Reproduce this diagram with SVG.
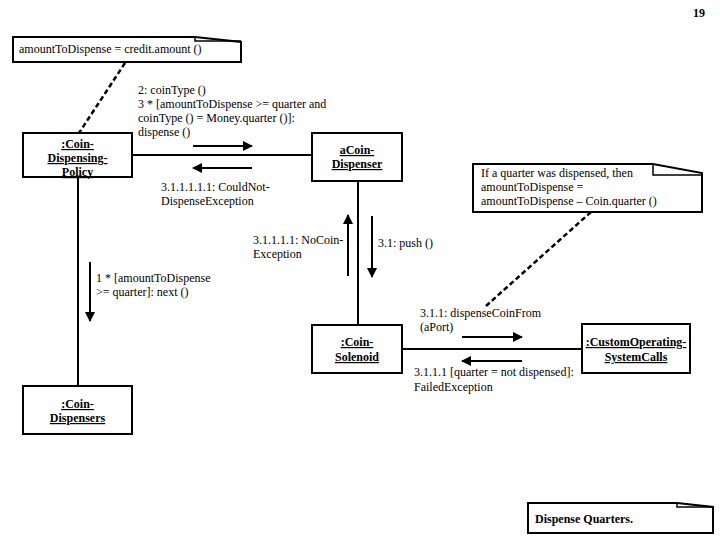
<svg xmlns="http://www.w3.org/2000/svg" width="720" height="540" viewBox="0 0 720 540" font-family="'Liberation Serif', 'Times New Roman', Times, 'DejaVu Serif', serif" font-size="12">
<style>
text{font-family:'Liberation Serif','Times New Roman',Times,'DejaVu Serif',serif;font-size:12px;fill:#000}
.obj{fill:#fff;stroke:#000;stroke-width:2}
.name{font-weight:bold;text-decoration:underline;text-anchor:middle}
.ln{stroke:#000;stroke-width:2;fill:none}
.arr{stroke:#000;stroke-width:2;fill:none;marker-end:url(#ah)}
.dash{stroke:#000;stroke-width:2.5;fill:none;stroke-dasharray:5,3}
.note{fill:#fff;stroke:#000;stroke-width:2}
.fold{fill:none;stroke:#000;stroke-width:1.5}
</style>
<defs>
<marker id="ah" viewBox="0 0 10 10" refX="9" refY="5" markerWidth="5" markerHeight="5" markerUnits="strokeWidth" orient="auto">
<path d="M0,0 L10,5 L0,10 z" fill="#000"/>
</marker>
</defs>
<rect width="720" height="540" fill="#fff"/>
<text x="705" y="17" font-weight="bold" font-size="13" text-anchor="end">19</text>

<g id="connectors">
<line class="ln" x1="132" y1="155" x2="312" y2="155"/>
<line class="ln" x1="78" y1="177" x2="78" y2="386"/>
<line class="ln" x1="358" y1="182" x2="358" y2="325"/>
<line class="ln" x1="402" y1="349" x2="582" y2="349"/>
<path class="dash" d="M125,63 L79,133"/>
<path class="dash" d="M591,212 L486,306"/>
<path class="arr" d="M193,146 L252,146"/>
<path class="arr" d="M252,168 L193,168"/>
<path class="arr" d="M90,262 L90,321"/>
<path class="arr" d="M348,276 L348,215"/>
<path class="arr" d="M372,216 L372,277"/>
<path class="arr" d="M462,337 L522,337"/>
<path class="arr" d="M522,361 L462,361"/>
<text x="138" y="94">2: coinType ()</text>
<text x="138" y="108">3 * [amountToDispense &gt;= quarter and</text>
<text x="138" y="122">coinType () = Money.quarter ()]:</text>
<text x="138" y="136">dispense ()</text>
<text x="161" y="191">3.1.1.1.1.1: CouldNot-</text>
<text x="161" y="205">DispenseException</text>
<text x="253" y="244">3.1.1.1.1: NoCoin-</text>
<text x="253" y="258">Exception</text>
<text x="378" y="247">3.1: push ()</text>
<text x="96" y="282">1 * [amountToDispense</text>
<text x="96" y="296">&gt;= quarter]: next ()</text>
<text x="420" y="317">3.1.1: dispenseCoinFrom</text>
<text x="420" y="331">(aPort)</text>
<text x="414" y="376">3.1.1.1 [quarter = not dispensed]:</text>
<text x="414" y="391">FailedException</text>
</g>

<g id="note-amount">
<path class="note" d="M13,37 L195,37 L241,42 L241,62 L13,62 Z"/>
<path class="fold" d="M195,37 L195,41 L241,41"/>
<text x="19" y="53">amountToDispense = credit.amount ()</text>
</g>

<g id="note-quarter">
<path class="note" d="M473,164 L653,164 L702,173 L702,212 L473,212 Z"/>
<path class="fold" d="M653,164 L653,175 L702,175"/>
<text x="481" y="177"> If a quarter was dispensed, then</text>
<text x="481" y="191">amountToDispense =</text>
<text x="481" y="205">amountToDispense – Coin.quarter ()</text>
</g>

<g id="note-title">
<path class="note" d="M528,503 L677,503 L713,507 L713,533 L528,533 Z"/>
<path class="fold" d="M677,503 L677,507 L713,507"/>
<text x="535" y="523" font-weight="bold">Dispense Quarters.</text>
</g>

<g id="coin-dispensing-policy">
<rect class="obj" x="23" y="133" width="109" height="44"/>
<text class="name" x="77.5" y="148">:Coin-</text>
<text class="name" x="77.5" y="162">Dispensing-</text>
<text class="name" x="77.5" y="176">Policy</text>
</g>

<g id="a-coin-dispenser">
<rect class="obj" x="312" y="133" width="90" height="48"/>
<text class="name" x="357" y="154">aCoin-</text>
<text class="name" x="357" y="168">Dispenser</text>
</g>

<g id="coin-solenoid">
<rect class="obj" x="312" y="325" width="90" height="48"/>
<text class="name" x="357" y="346">:Coin-</text>
<text class="name" x="357" y="361">Solenoid</text>
</g>

<g id="custom-os-calls">
<rect class="obj" x="582" y="324" width="108" height="49"/>
<text class="name" x="636" y="346">:CustomOperating-</text>
<text class="name" x="636" y="361">SystemCalls</text>
</g>

<g id="coin-dispensers">
<rect class="obj" x="23" y="386" width="109" height="48"/>
<text class="name" x="77.5" y="408">:Coin-</text>
<text class="name" x="77.5" y="422">Dispensers</text>
</g>
</svg>
